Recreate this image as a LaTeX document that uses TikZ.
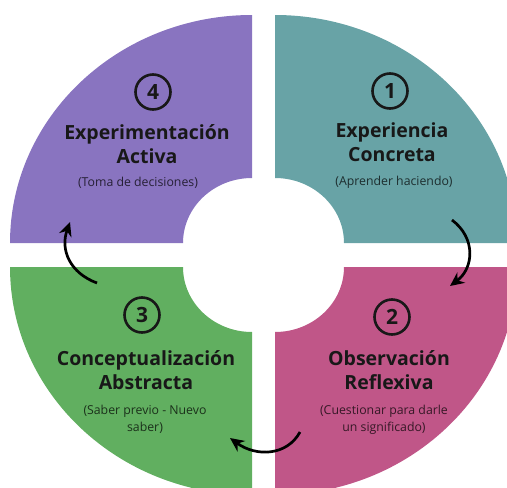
\documentclass[tikz,border=0pt]{standalone}
\usepackage{fontspec}
\setmainfont{Open Sans}
\usetikzlibrary{arrows.meta}
\definecolor{qpurple}{RGB}{137,116,192}
\definecolor{qteal}{RGB}{104,163,166}
\definecolor{qmagenta}{RGB}{192,86,136}
\definecolor{qgreen}{RGB}{97,175,96}
\definecolor{qtext}{RGB}{24,24,24}
\begin{document}
\begin{tikzpicture}[x=1pt,y=-1pt,
  numcirc/.style={draw=qtext,line width=2.6pt,circle,minimum size=35pt,inner sep=0pt,
    text=qtext,font=\fontsize{21}{21}\selectfont\bfseries},
  title/.style={align=center,text=qtext,font=\fontsize{19.5}{23.5}\selectfont\bfseries,inner sep=0pt},
  subtitle/.style={align=center,text=black,text opacity=0.72,font=\fontsize{12.3}{17}\selectfont,inner sep=0pt},
  cyclearrow/.style={line width=2.7pt,draw=black,-{Stealth[length=14pt,width=13pt]}}]
\useasboundingbox (0,0) rectangle (507,488);
\begin{scope}
\clip (0,0) rectangle (507,488);
% purple (top-left)
\fill[qpurple] (10,243) arc[start angle=180,end angle=270,x radius=242,y radius=228]
  -- (252,178) arc[start angle=270,end angle=180,x radius=69,y radius=65] -- cycle;
% teal (top-right)
\fill[qteal] (275,178) -- (275,15) arc[start angle=270,end angle=360,x radius=242,y radius=228]
  -- (344,243) arc[start angle=0,end angle=-90,x radius=69,y radius=65] -- cycle;
% magenta (bottom-right)
\fill[qmagenta] (344,267) -- (517,267) arc[start angle=0,end angle=90,x radius=242,y radius=228]
  -- (275,332) arc[start angle=90,end angle=0,x radius=69,y radius=65] -- cycle;
% green (bottom-left)
\fill[qgreen] (252,332) -- (252,495) arc[start angle=90,end angle=180,x radius=242,y radius=228]
  -- (183,267) arc[start angle=180,end angle=90,x radius=69,y radius=65] -- cycle;
\end{scope}

% quadrant 4
\node[numcirc] (n4) at (153,92) {4};
\node[title] (t4) at (147,144) {Experimentación\\Activa};
\node[subtitle] (s4) at (138,183) {(Toma de decisiones)};
% quadrant 1
\node[numcirc] (n1) at (390,91) {1};
\node[title] (t1) at (392,142) {Experiencia\\Concreta};
\node[subtitle] (s1) at (394,182) {(Aprender haciendo)};
% quadrant 3
\node[numcirc] (n3) at (142,315) {3};
\node[title] (t3) at (146,370) {Conceptualización\\Abstracta};
\node[subtitle] (s3) at (145,419) {(Saber previo - Nuevo\\saber)};
% quadrant 2
\node[numcirc] (n2) at (392,317) {2};
\node[title] (t2) at (389,370) {Observación\\Reflexiva};
\node[subtitle] (s2) at (384,420) {(Cuestionar para darle\\un significado)};

% arrows
\coordinate (a1s) at (452,220);
\coordinate (a1e) at (450,286);
\coordinate (a2s) at (300,432);
\coordinate (a2e) at (230,438);
\coordinate (a3s) at (97,283);
\coordinate (a3e) at (70,222);
\draw[cyclearrow] (a1s) .. controls (476,238) and (474,268) .. (a1e);
\draw[cyclearrow] (a2s) .. controls (287,456) and (256,457) .. (a2e);
\draw[cyclearrow] (a3s) .. controls (70,273) and (60,250) .. (a3e);
\end{tikzpicture}
\end{document}
